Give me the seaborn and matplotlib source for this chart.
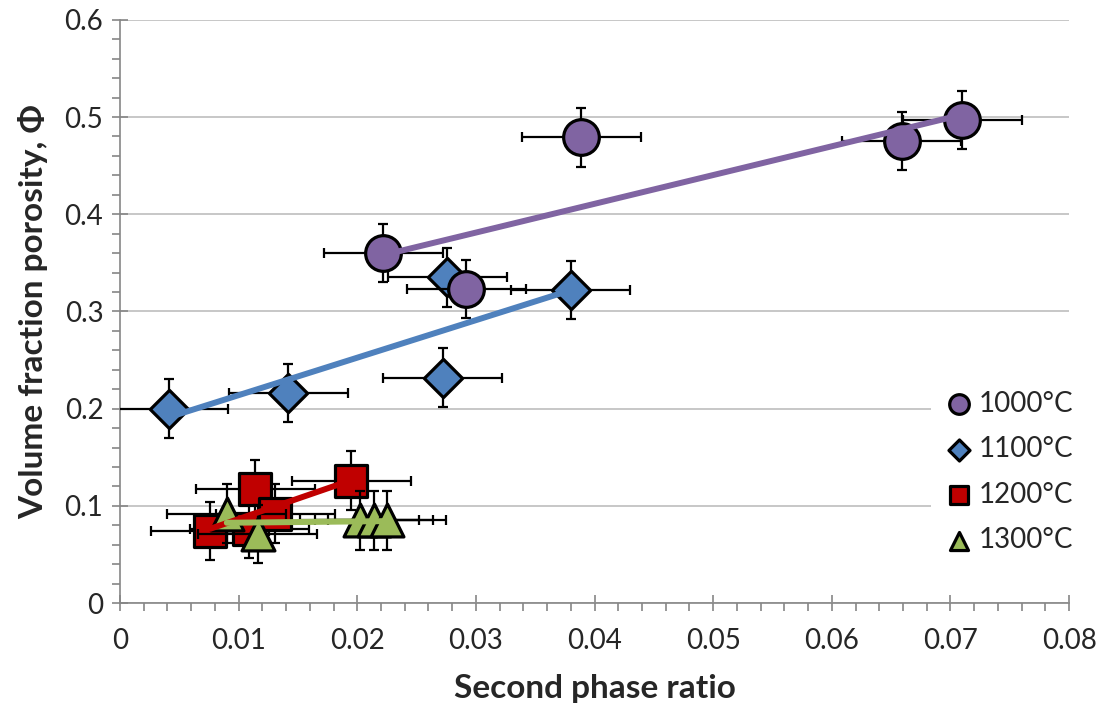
import numpy as np
import pandas as pd
import matplotlib
matplotlib.use("Agg")
import matplotlib.pyplot as plt
import seaborn as sns
from matplotlib.ticker import MultipleLocator, FuncFormatter

# Data
temps = ["1000°C", "1100°C", "1200°C", "1300°C"]

ratio_1000 = [0.0222, 0.0292, 0.0389, 0.0659, 0.0710]
poro_1000 = [0.360, 0.323, 0.479, 0.475, 0.497]

ratio_1100 = [0.0041, 0.0142, 0.0276, 0.0272, 0.0380]
poro_1100 = [0.200, 0.216, 0.335, 0.232, 0.322]

ratio_1200 = [0.0076, 0.0114, 0.0109, 0.0131, 0.0195]
poro_1200 = [0.074, 0.117, 0.076, 0.092, 0.126]

ratio_1300 = [0.0090, 0.0116, 0.0202, 0.0214, 0.0225]
poro_1300 = [0.092, 0.071, 0.085, 0.085, 0.085]

ratio_err = 0.005
poro_err = 0.03

x_ticks = [0, 0.01, 0.02, 0.03, 0.04, 0.05, 0.06, 0.07, 0.08]
y_ticks = [0, 0.1, 0.2, 0.3, 0.4, 0.5, 0.6]

df = pd.concat([
    pd.DataFrame({"ratio": ratio_1000, "porosity": poro_1000, "temp": temps[0]}),
    pd.DataFrame({"ratio": ratio_1100, "porosity": poro_1100, "temp": temps[1]}),
    pd.DataFrame({"ratio": ratio_1200, "porosity": poro_1200, "temp": temps[2]}),
    pd.DataFrame({"ratio": ratio_1300, "porosity": poro_1300, "temp": temps[3]}),
], ignore_index=True)

colors = {"1000°C": "#8064A2", "1100°C": "#4F81BD", "1200°C": "#C00000", "1300°C": "#9BBB59"}
markers = {"1000°C": "o", "1100°C": "D", "1200°C": "s", "1300°C": "^"}
sizes = {"1000°C": 660, "1100°C": 380, "1200°C": 560, "1300°C": 560}
# draw order so the overlaps look like the original
zorders = {"1100°C": 3, "1000°C": 4, "1200°C": 5, "1300°C": 6}

sns.set_style("white")
plt.rcParams["font.family"] = ["Lato", "DejaVu Sans"]

fig = plt.figure(figsize=(11.01, 7.07), dpi=100)
ax = fig.add_axes([0.109, 0.147, 0.862, 0.825])

handles = {}
for temp in temps:
    sub = df[df["temp"] == temp]
    z = zorders[temp]
    ax.errorbar(sub["ratio"], sub["porosity"], xerr=ratio_err, yerr=poro_err,
                fmt="none", ecolor="black", elinewidth=1.6, capsize=3.5,
                capthick=1.6, zorder=z)
    sns.scatterplot(data=sub, x="ratio", y="porosity", ax=ax, color=colors[temp],
                    marker=markers[temp], s=sizes[temp], edgecolor="black",
                    linewidth=2.3, zorder=z + 0.1, legend=False)
    handles[temp] = ax.collections[-1]

# linear trend lines on top of the markers
for temp in temps:
    sub = df[df["temp"] == temp]
    sns.regplot(data=sub, x="ratio", y="porosity", ax=ax, scatter=False, ci=None,
                truncate=True,
                line_kws={"color": colors[temp], "lw": 4.3, "zorder": 10 + zorders[temp]})

ax.set_xlim(0, 0.08)
ax.set_ylim(0, 0.6)
ax.set_xticks(x_ticks)
ax.set_yticks(y_ticks)
ax.xaxis.set_minor_locator(MultipleLocator(0.002))
ax.yaxis.set_minor_locator(MultipleLocator(0.02))
fmt = FuncFormatter(lambda v, p: f"{v:g}")
ax.xaxis.set_major_formatter(fmt)
ax.yaxis.set_major_formatter(fmt)

ax.yaxis.grid(True, which="major", color="#BEBEBE", lw=1.2, zorder=0)
ax.xaxis.grid(False)
ax.set_axisbelow(True)

for side in ["top", "right"]:
    ax.spines[side].set_visible(False)
for side in ["left", "bottom"]:
    ax.spines[side].set_color("#868686")
    ax.spines[side].set_linewidth(1.2)

ax.tick_params(which="major", direction="inout", length=12, width=1.2,
               color="#868686", labelsize=20, pad=6)
ax.tick_params(which="minor", direction="out", length=6, width=1.2, color="#868686")
ax.tick_params(axis="x", which="both", bottom=True)
ax.tick_params(axis="y", which="both", left=True)
ax.tick_params(axis="x", which="major", pad=12)

ax.set_xlabel("Second phase ratio", fontsize=24, fontweight="bold", labelpad=14)
ax.set_ylabel("Volume fraction porosity, Φ", fontsize=24, fontweight="bold", labelpad=12)

leg = ax.legend([handles[t] for t in temps], temps, loc="center left",
                bbox_to_anchor=(0.84, 0.225), frameon=True, fontsize=20,
                markerscale=0.55, labelspacing=0.7, handletextpad=0.1,
                borderpad=0.4, handlelength=1.2)
leg.get_frame().set_facecolor("white")
leg.get_frame().set_edgecolor("none")
leg.get_frame().set_alpha(1)
leg.set_zorder(30)

fig.savefig("out.png", dpi=100)
